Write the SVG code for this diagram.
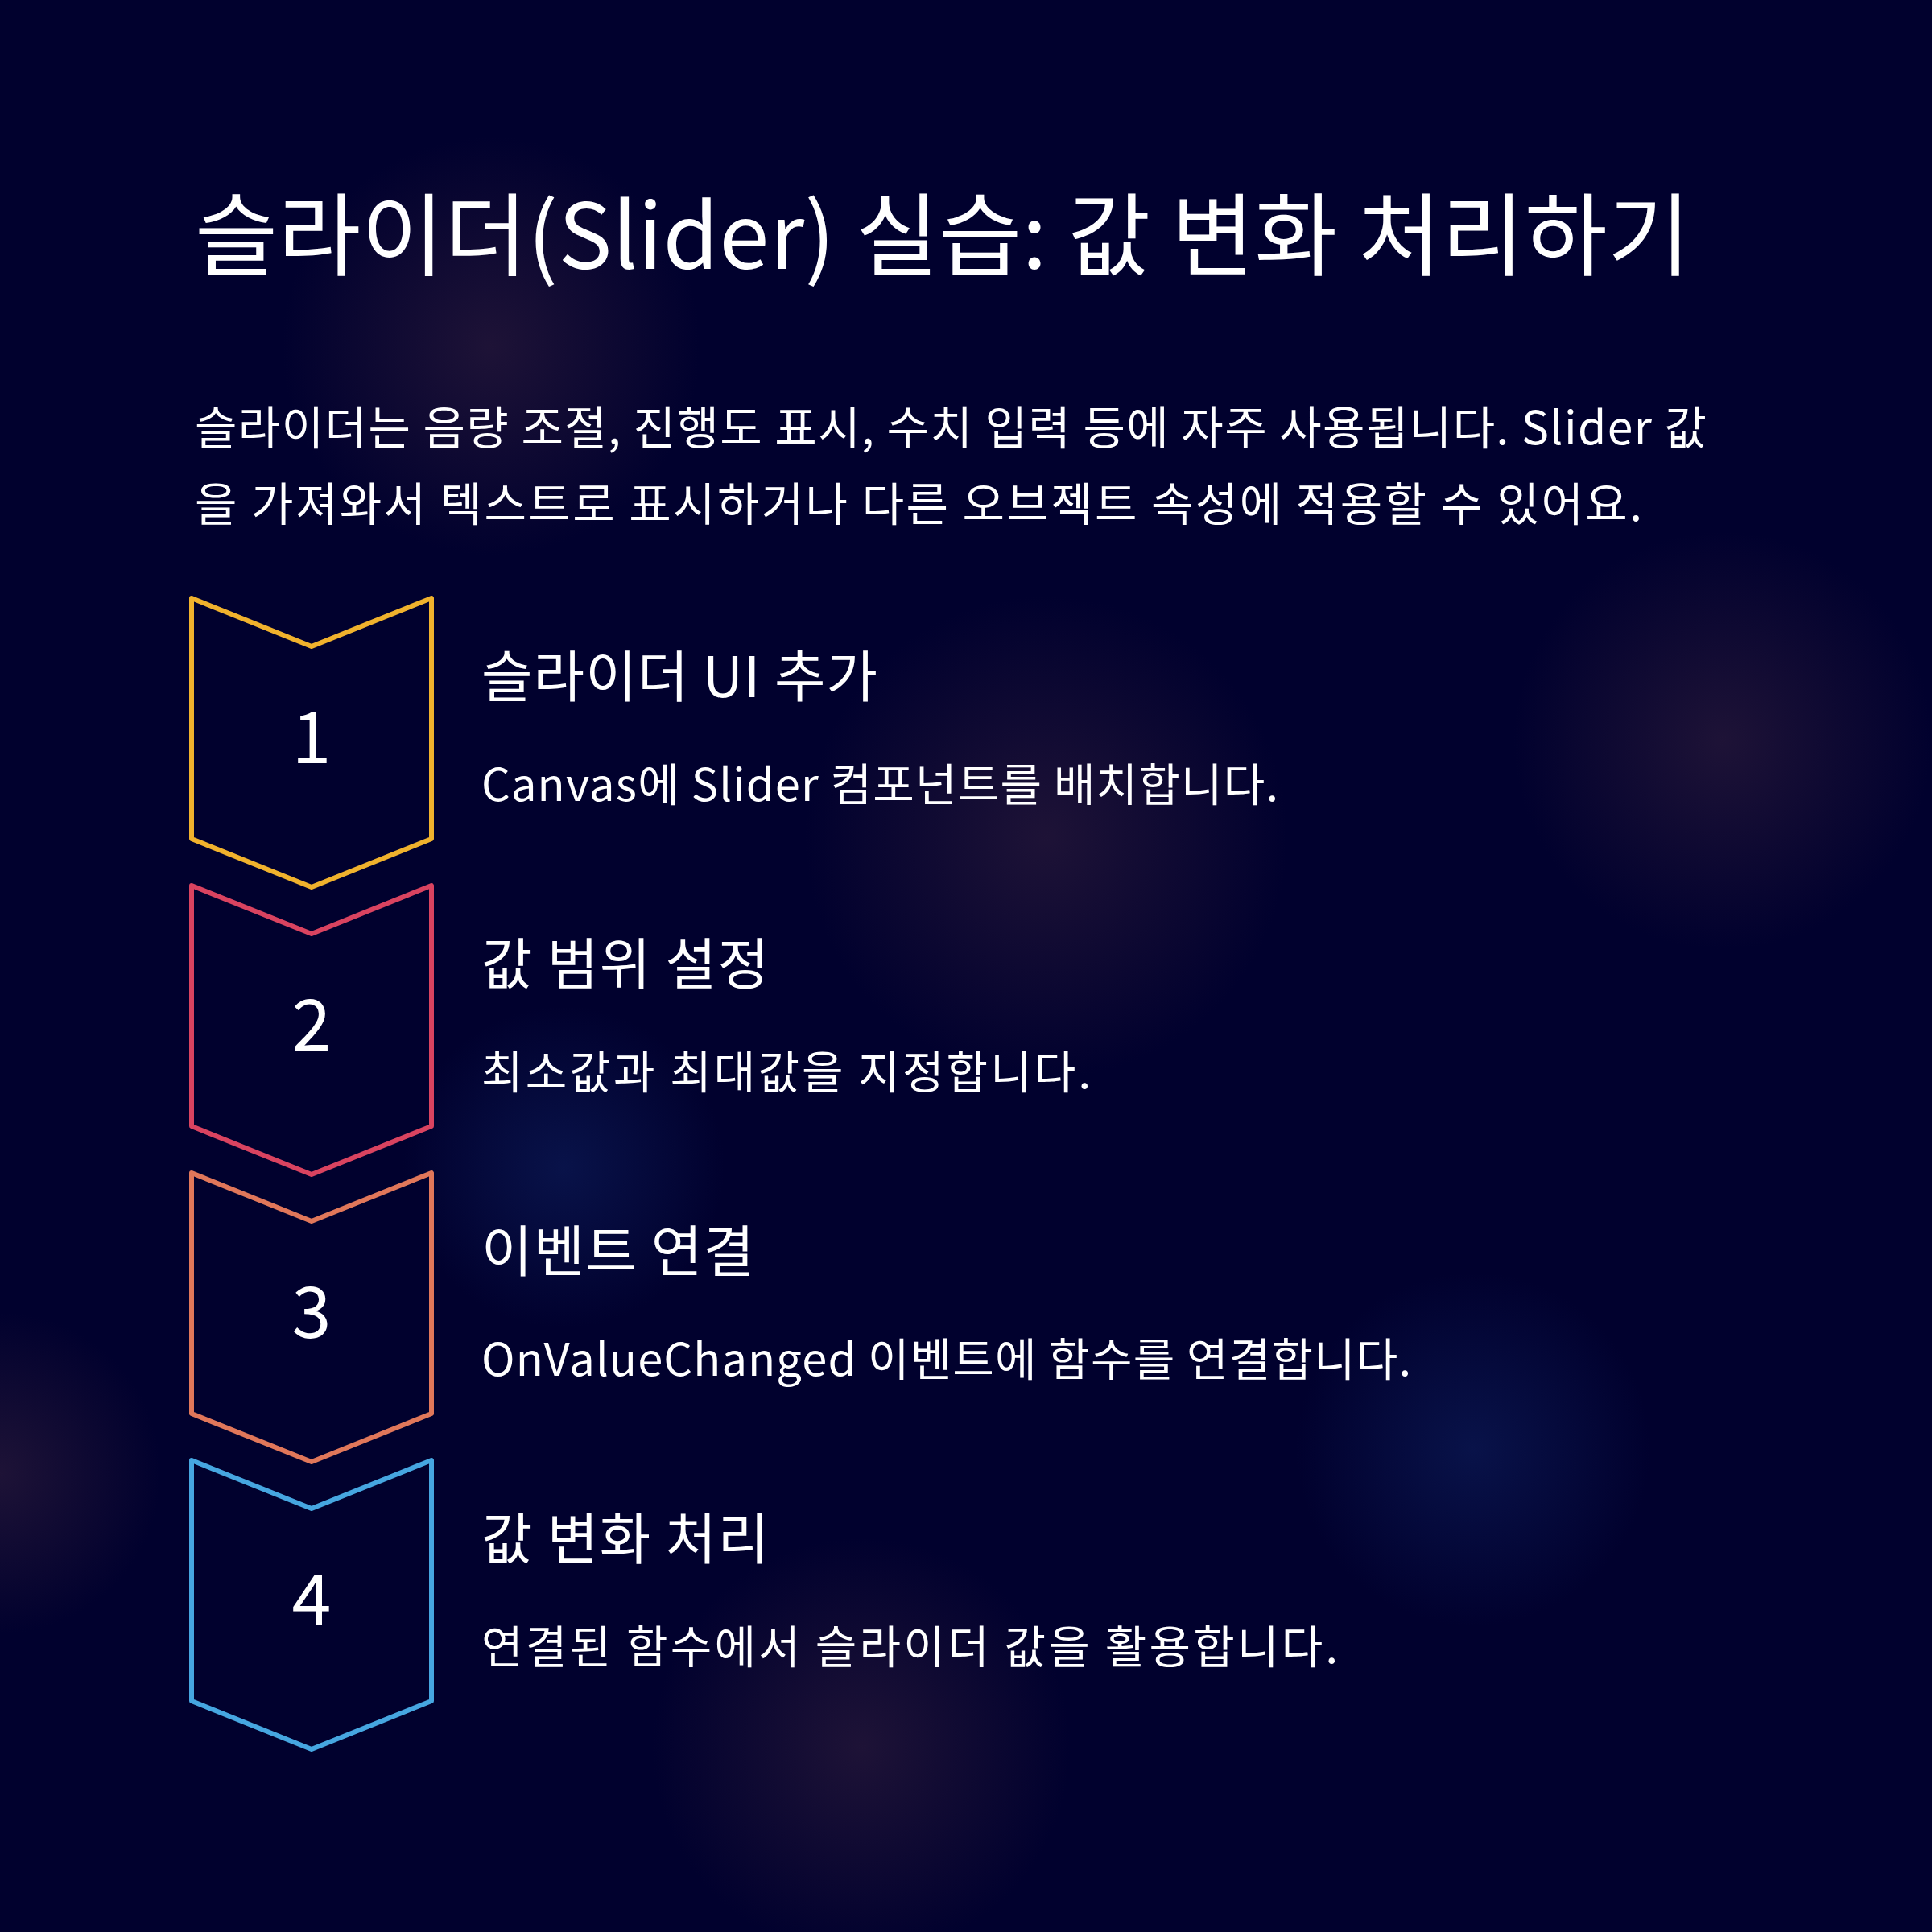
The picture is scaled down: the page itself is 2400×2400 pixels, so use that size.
<svg xmlns="http://www.w3.org/2000/svg" width="2400" height="2400" viewBox="0 0 2400 2400">
  <defs>
    <radialGradient id="glowPurple" cx="0.5" cy="0.5" r="0.5">
      <stop offset="0" stop-color="#2a1a3a" stop-opacity="0.7"/>
      <stop offset="1" stop-color="#2a1a3a" stop-opacity="0"/>
    </radialGradient>
    <radialGradient id="glowBlue" cx="0.5" cy="0.5" r="0.5">
      <stop offset="0" stop-color="#0c1a55" stop-opacity="0.7"/>
      <stop offset="1" stop-color="#0c1a55" stop-opacity="0"/>
    </radialGradient>
    <style>
      .bg { fill: #01012e; }
      .title { font-family: "Noto Sans CJK KR", "Noto Sans", sans-serif; font-size: 112px; fill: #ffffff; font-weight: 400; }
      .para { font-family: "Noto Sans CJK KR", "Noto Sans", sans-serif; font-size: 57px; fill: #ffffff; }
      .stitle { font-family: "Noto Sans CJK KR", "Noto Sans", sans-serif; font-size: 69px; fill: #ffffff; }
      .sdesc { font-family: "Noto Sans CJK KR", "Noto Sans", sans-serif; font-size: 56px; fill: #ffffff; }
      .num { font-family: "Noto Sans CJK KR", "Noto Sans", sans-serif; font-size: 88px; fill: #ffffff; text-anchor: middle; }
      .chev { fill: #01012e; stroke-width: 6; stroke-linejoin: round; }
    </style>
  </defs>
  <rect class="bg" x="0" y="0" width="2400" height="2400"/>
  <g id="background-glows">
    <circle cx="610" cy="430" r="260" fill="url(#glowPurple)"/>
    <circle cx="2140" cy="920" r="260" fill="url(#glowPurple)"/>
    <circle cx="1300" cy="1040" r="300" fill="url(#glowPurple)"/>
    <circle cx="1830" cy="1800" r="220" fill="url(#glowBlue)"/>
    <circle cx="0" cy="1830" r="200" fill="url(#glowPurple)"/>
    <circle cx="1070" cy="2170" r="260" fill="url(#glowPurple)"/>
    <circle cx="700" cy="1450" r="200" fill="url(#glowBlue)"/>
  </g>
  <g id="title">
    <text class="title" x="242" y="334" textLength="1858">슬라이더(Slider) 실습: 값 변화 처리하기</text>
  </g>
  <g id="intro">
    <text class="para" x="242" y="552" textLength="1878">슬라이더는 음량 조절, 진행도 표시, 수치 입력 등에 자주 사용됩니다. Slider 값</text>
    <text class="para" x="242" y="647" textLength="1798">을 가져와서 텍스트로 표시하거나 다른 오브젝트 속성에 적용할 수 있어요.</text>
  </g>
  <g id="connectors"/>
  <g id="step1">
    <path class="chev" stroke="#f0b22d" d="M238,743 L387,803 L536,743 L536,1042 L387,1102 L238,1042 Z"/>
    <text class="num" x="387" y="948">1</text>
    <text class="stitle" x="598" y="866" textLength="492">슬라이더 UI 추가</text>
    <text class="sdesc" x="598" y="995" textLength="990">Canvas에 Slider 컴포넌트를 배치합니다.</text>
  </g>
  <g id="step2">
    <path class="chev" stroke="#d94360" d="M238,1100 L387,1160 L536,1100 L536,1399 L387,1459 L238,1399 Z"/>
    <text class="num" x="387" y="1305">2</text>
    <text class="stitle" x="598" y="1223" textLength="357">값 범위 설정</text>
    <text class="sdesc" x="598" y="1352" textLength="757">최소값과 최대값을 지정합니다.</text>
  </g>
  <g id="step3">
    <path class="chev" stroke="#e0775a" d="M238,1457 L387,1517 L536,1457 L536,1756 L387,1816 L238,1756 Z"/>
    <text class="num" x="387" y="1662">3</text>
    <text class="stitle" x="598" y="1580" textLength="339">이벤트 연결</text>
    <text class="sdesc" x="598" y="1709" textLength="1155">OnValueChanged 이벤트에 함수를 연결합니다.</text>
  </g>
  <g id="step4">
    <path class="chev" stroke="#46a6e0" d="M238,1814 L387,1874 L536,1814 L536,2113 L387,2173 L238,2113 Z"/>
    <text class="num" x="387" y="2019">4</text>
    <text class="stitle" x="598" y="1937" textLength="357">값 변화 처리</text>
    <text class="sdesc" x="598" y="2066" textLength="1064">연결된 함수에서 슬라이더 값을 활용합니다.</text>
  </g>
</svg>
